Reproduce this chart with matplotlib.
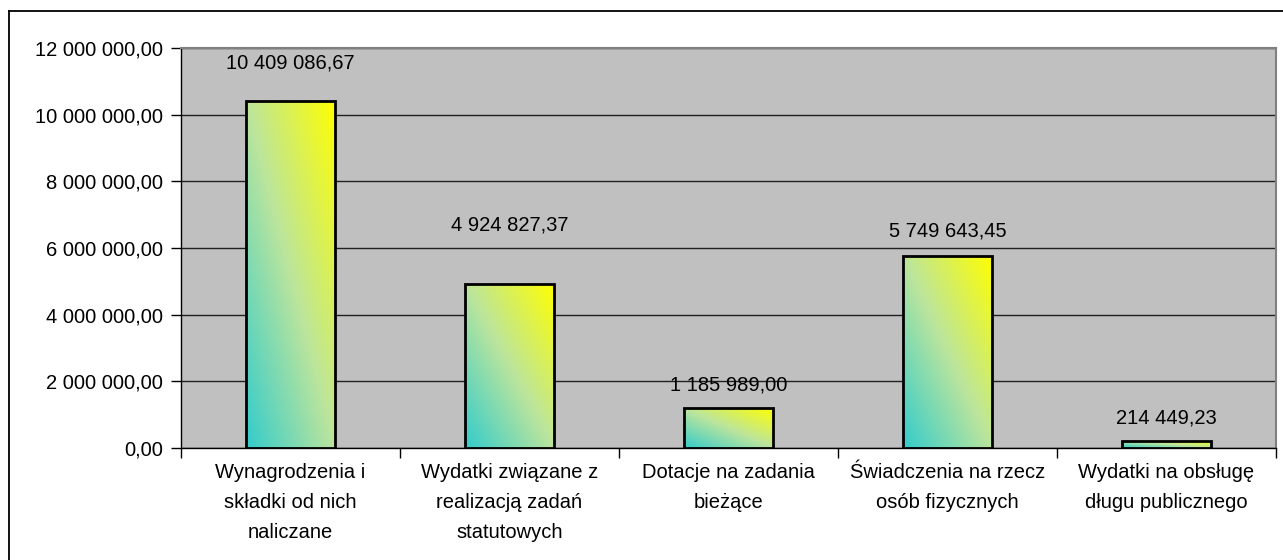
import numpy as np
import matplotlib
matplotlib.use("Agg")
import matplotlib.pyplot as plt
from matplotlib.colors import LinearSegmentedColormap
from matplotlib.patches import Rectangle
from matplotlib.lines import Line2D
from matplotlib.ticker import FuncFormatter, FixedLocator

categories = [
    "Wynagrodzenia i\nskładki od nich\nnaliczane",
    "Wydatki związane z\nrealizacją zadań\nstatutowych",
    "Dotacje na zadania\nbieżące",
    "Świadczenia na rzecz\nosób fizycznych",
    "Wydatki na obsługę\ndługu publicznego",
]
values = [10409086.67, 4924827.37, 1185989.00, 5749643.45, 214449.23]
y_ticks = [0, 2000000, 4000000, 6000000, 8000000, 10000000, 12000000]
# label offsets above bar tops, in pixels (style, as in the reference)
label_offsets_px = [38, 59, 23, 25, 23]

def pl_fmt(v):
    return f"{v:,.2f}".replace(",", " ").replace(".", ",")

plt.rcParams['font.family'] = ['Liberation Sans', 'DejaVu Sans']
FS = 14.5

fig = plt.figure(figsize=(12.83, 5.60), dpi=100)
W, H = 1283, 560
ax = fig.add_axes([181 / W, 1 - 448 / H, (1276 - 181) / W, (448 - 48) / H])
ax.set_facecolor('#C0C0C0')

x = np.arange(len(values))
bw = 0.407
bars = ax.bar(x, values, width=bw, facecolor='none', edgecolor='black',
              linewidth=2.0, zorder=4)

cmap = LinearSegmentedColormap.from_list(
    'grad', [(0.0, '#33CCCC'), (0.5, '#BCE59C'), (1.0, '#FFFF00')])
n = 200
u = np.linspace(0, 1, n)
U, V = np.meshgrid(u, u)
T = (U + V) / 2.0

for b in bars:
    x0, y0 = b.get_x(), b.get_y()
    w, h = b.get_width(), b.get_height()
    im = ax.imshow(T, cmap=cmap, vmin=0, vmax=1, origin='lower',
                   extent=[x0, x0 + w, y0, y0 + h], aspect='auto',
                   interpolation='bilinear', zorder=3)
    clip = Rectangle((x0, y0), w, h, transform=ax.transData)
    im.set_clip_path(clip)

ax.set_xlim(-0.5, len(values) - 0.5)
ax.set_ylim(0, 12000000)
ax.set_aspect('auto')

ax.yaxis.set_major_locator(FixedLocator(y_ticks))
ax.yaxis.set_major_formatter(FuncFormatter(lambda v, p: pl_fmt(v)))
ax.tick_params(axis='y', length=7, width=1, color='black', pad=6,
               labelsize=FS, direction='out')
ax.grid(axis='y', color='#202020', linewidth=1.0, zorder=1)
ax.set_axisbelow(True)

ax.set_xticks(x)
ax.set_xticklabels(categories, fontsize=FS, linespacing=1.72)
ax.tick_params(axis='x', which='major', length=0, pad=11)
ax.xaxis.set_minor_locator(FixedLocator(np.arange(-0.5, len(values), 1.0)))
ax.tick_params(axis='x', which='minor', length=7, width=1, color='black',
               direction='out')

for s in ['top', 'right']:
    ax.spines[s].set_color('#808080')
    ax.spines[s].set_linewidth(1.5)
for s in ['left', 'bottom']:
    ax.spines[s].set_color('black')
    ax.spines[s].set_linewidth(1.0)

for b, v, off in zip(bars, values, label_offsets_px):
    ax.annotate(pl_fmt(v), xy=(b.get_x() + b.get_width() / 2, v),
                xytext=(0, off), textcoords='offset pixels',
                ha='center', va='center', fontsize=FS, zorder=6)

# outer chart border
fig.add_artist(Line2D([8.5 / W, 8.5 / W], [0, 1 - 10.5 / H],
                      transform=fig.transFigure, color='black', lw=1.3))
fig.add_artist(Line2D([8.5 / W, 1], [1 - 10.5 / H, 1 - 10.5 / H],
                      transform=fig.transFigure, color='black', lw=1.3))

fig.savefig('out.png', dpi=100, facecolor='white')
